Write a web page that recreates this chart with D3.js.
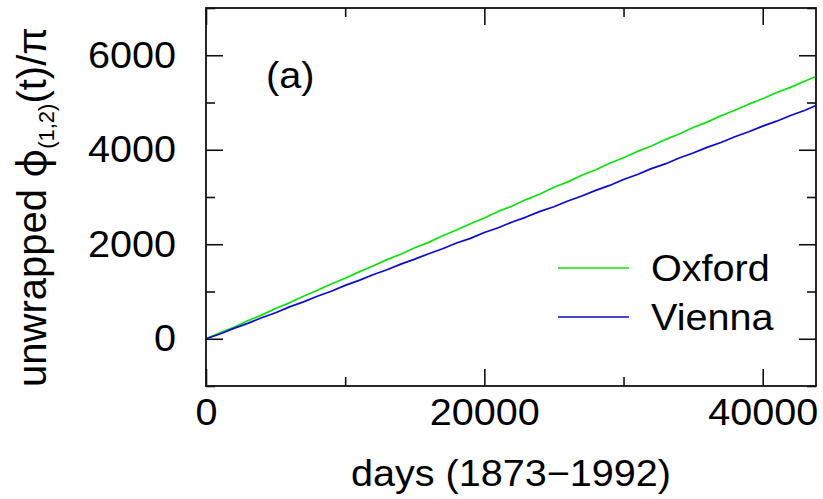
<!DOCTYPE html>
<html>
<head>
<meta charset="utf-8">
<script src="https://cdn.jsdelivr.net/npm/d3@7"></script>
<style>
  html, body { margin: 0; padding: 0; background: #fff; }
  svg { display: block; }
  text { font-family: "Liberation Sans", Arial, Helvetica, sans-serif; fill: #000; }
</style>
</head>
<body>
<svg id="chart" width="823" height="499"></svg>
<script>
// Elapsed days since 1 Jan 1873
const days = [0, 1000, 2000, 3000, 4000, 5000, 6000, 7000, 8000, 9000,
  10000, 11000, 12000, 13000, 14000, 15000, 16000, 17000, 18000, 19000,
  20000, 21000, 22000, 23000, 24000, 25000, 26000, 27000, 28000, 29000,
  30000, 31000, 32000, 33000, 34000, 35000, 36000, 37000, 38000, 39000,
  40000, 41000, 42000, 43000, 43830];

// Unwrapped phase difference (in units of pi)
const oxford = [0, 125, 245, 380, 500, 640, 760, 900, 1025, 1160,
  1280, 1415, 1540, 1675, 1790, 1925, 2040, 2180, 2300, 2435,
  2555, 2695, 2810, 2945, 3065, 3205, 3320, 3460, 3575, 3715,
  3830, 3965, 4080, 4215, 4335, 4470, 4585, 4720, 4835, 4965,
  5080, 5210, 5320, 5450, 5550];

const vienna = [0, 100, 220, 325, 445, 550, 675, 780, 900, 1005,
  1130, 1235, 1355, 1460, 1580, 1685, 1800, 1905, 2025, 2125,
  2250, 2350, 2470, 2575, 2695, 2795, 2915, 3020, 3140, 3245,
  3370, 3475, 3600, 3700, 3825, 3930, 4050, 4155, 4275, 4380,
  4500, 4605, 4725, 4830, 4935];

const xMajorTicks = [0, 20000, 40000];
const xMinorTicks = [10000, 30000];
const yMajorTicks = [0, 2000, 4000, 6000];
const yMinorTicks = [-1000, 1000, 3000, 5000, 7000];

const seriesNames = ["Oxford", "Vienna"];
const seriesColors = ["#10e010", "#0a0ad0"];

const svg = d3.select("#chart");
const plotL = 206, plotR = 816, plotT = 8, plotB = 386;

const x = d3.scaleLinear().domain([0, 43830]).range([plotL, plotR]);
const y = d3.scaleLinear().domain([-1000, 7000]).range([plotB, plotT]);

const majorLen = 17, minorLen = 9;
const stretch = "scale(1.07,1)";

// Bottom axis: inward ticks with labels
const gB = svg.append("g").attr("transform", `translate(0,${plotB})`)
  .call(d3.axisBottom(x).tickValues(xMajorTicks).tickSizeInner(-majorLen)
    .tickSizeOuter(0).tickPadding(12).tickFormat(d3.format("d")));
svg.append("g").attr("transform", `translate(0,${plotB})`)
  .call(d3.axisBottom(x).tickValues(xMinorTicks).tickSizeInner(-minorLen)
    .tickSizeOuter(0).tickFormat(""));
// Top mirror ticks
svg.append("g").attr("transform", `translate(0,${plotT})`)
  .call(d3.axisTop(x).tickValues(xMajorTicks).tickSizeInner(-majorLen)
    .tickSizeOuter(0).tickFormat(""));
svg.append("g").attr("transform", `translate(0,${plotT})`)
  .call(d3.axisTop(x).tickValues(xMinorTicks).tickSizeInner(-minorLen)
    .tickSizeOuter(0).tickFormat(""));

// Left axis with labels
const gL = svg.append("g").attr("transform", `translate(${plotL},0)`)
  .call(d3.axisLeft(y).tickValues(yMajorTicks).tickSizeInner(-majorLen)
    .tickSizeOuter(0).tickPadding(28).tickFormat(d3.format("d")));
svg.append("g").attr("transform", `translate(${plotL},0)`)
  .call(d3.axisLeft(y).tickValues(yMinorTicks).tickSizeInner(-minorLen)
    .tickSizeOuter(0).tickFormat(""));
// Right mirror ticks
svg.append("g").attr("transform", `translate(${plotR},0)`)
  .call(d3.axisRight(y).tickValues(yMajorTicks).tickSizeInner(-majorLen)
    .tickSizeOuter(0).tickFormat(""));
svg.append("g").attr("transform", `translate(${plotR},0)`)
  .call(d3.axisRight(y).tickValues(yMinorTicks).tickSizeInner(-minorLen)
    .tickSizeOuter(0).tickFormat(""));

svg.selectAll(".domain").remove();
svg.selectAll(".tick line").attr("stroke", "#111").attr("stroke-width", 1.6);

gB.selectAll(".tick text")
  .attr("font-size", 37).attr("dy", "0.72em")
  .attr("font-family", "Liberation Sans, Arial, sans-serif")
  .attr("transform", stretch);
gL.selectAll(".tick text")
  .attr("font-size", 37).attr("dy", "0.33em")
  .attr("font-family", "Liberation Sans, Arial, sans-serif")
  .attr("transform", stretch);

// Series lines
const line = d3.line().x((d, i) => x(days[i])).y(d => y(d));
[oxford, vienna].forEach((vals, k) => {
  svg.append("path").datum(vals)
    .attr("fill", "none")
    .attr("stroke", seriesColors[k])
    .attr("stroke-width", 1.7)
    .attr("stroke-linejoin", "round")
    .attr("d", line);
});

// Plot frame
svg.append("rect")
  .attr("x", plotL).attr("y", plotT)
  .attr("width", plotR - plotL).attr("height", plotB - plotT)
  .attr("fill", "none").attr("stroke", "#111").attr("stroke-width", 1.8);

// Panel label
svg.append("text")
  .attr("transform", `translate(266,88) ${stretch}`)
  .attr("font-size", 37)
  .text("(a)");

// Legend
const legend = svg.append("g");
seriesNames.forEach((name, k) => {
  const ly = 268 + k * 49;
  legend.append("line")
    .attr("x1", 558).attr("x2", 629).attr("y1", ly).attr("y2", ly)
    .attr("stroke", seriesColors[k]).attr("stroke-width", 1.4);
  legend.append("text")
    .attr("transform", `translate(651,${ly + 12.5}) ${stretch}`)
    .attr("font-size", 37)
    .text(name);
});

// Axis titles
svg.append("text")
  .attr("transform", `translate(${(plotL + plotR) / 2},486) ${stretch}`)
  .attr("text-anchor", "middle")
  .attr("font-size", 37)
  .text("days (1873\u22121992)");

const yt = svg.append("text")
  .attr("transform", "translate(46,207) rotate(-90)")
  .attr("text-anchor", "middle")
  .attr("font-size", 40);
yt.append("tspan").text("unwrapped ");
yt.append("tspan").attr("font-family", "Noto Sans, DejaVu Sans, sans-serif").text("\u03D5");
yt.append("tspan").attr("font-size", 22).attr("dy", 8).text("(1,2)");
yt.append("tspan").attr("dy", -8).text("(t)/\u03C0");
</script>
</body>
</html>
